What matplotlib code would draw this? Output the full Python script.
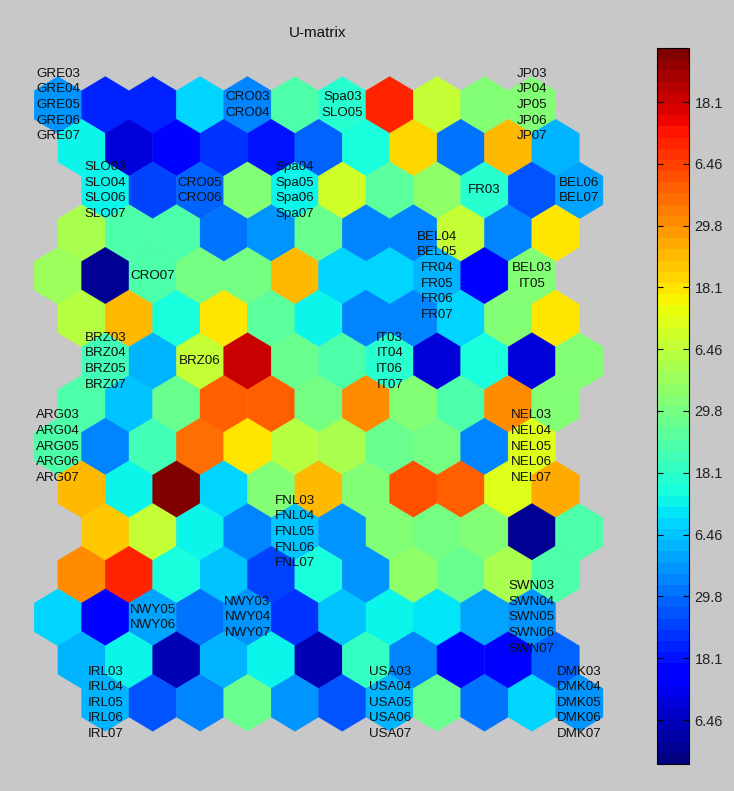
import numpy as np
import matplotlib
matplotlib.use("Agg")
import matplotlib.pyplot as plt
from matplotlib.collections import PolyCollection

plt.rcParams['font.family'] = ['Liberation Sans', 'DejaVu Sans']

# U-matrix values (fraction of the colour range), 15 rows x 11 cols, top row first
umat = np.array([
    [0.27, 0.17, 0.17, 0.33, 0.26, 0.45, 0.40, 0.87, 0.58, 0.50, 0.50],
    [0.36, 0.08, 0.13, 0.18, 0.15, 0.22, 0.38, 0.68, 0.24, 0.71, 0.31],
    [0.37, 0.20, 0.22, 0.50, 0.37, 0.60, 0.46, 0.52, 0.40, 0.21, 0.29],
    [0.55, 0.45, 0.45, 0.24, 0.28, 0.47, 0.25, 0.25, 0.59, 0.26, 0.66],
    [0.54, 0.02, 0.45, 0.49, 0.49, 0.71, 0.33, 0.33, 0.31, 0.12, 0.50],
    [0.57, 0.71, 0.38, 0.66, 0.46, 0.37, 0.25, 0.25, 0.33, 0.51, 0.66],
    [0.43, 0.30, 0.59, 0.93, 0.48, 0.45, 0.40, 0.08, 0.38, 0.08, 0.51],
    [0.45, 0.32, 0.48, 0.80, 0.80, 0.49, 0.75, 0.50, 0.45, 0.76, 0.51],
    [0.45, 0.25, 0.43, 0.79, 0.67, 0.57, 0.56, 0.47, 0.49, 0.25, 0.62],
    [0.71, 0.36, 1.00, 0.33, 0.50, 0.71, 0.50, 0.82, 0.80, 0.62, 0.73],
    [0.70, 0.59, 0.36, 0.26, 0.32, 0.28, 0.50, 0.49, 0.50, 0.02, 0.45],
    [0.75, 0.87, 0.39, 0.32, 0.20, 0.38, 0.28, 0.52, 0.47, 0.56, 0.45],
    [0.33, 0.12, 0.29, 0.24, 0.27, 0.18, 0.32, 0.36, 0.35, 0.29, 0.28],
    [0.31, 0.36, 0.05, 0.31, 0.36, 0.05, 0.42, 0.25, 0.13, 0.13, 0.23],
    [0.31, 0.21, 0.26, 0.47, 0.28, 0.21, 0.31, 0.47, 0.24, 0.33, 0.28],
])

# unit labels: (row, col) -> names
labels = {
    (0, 0): ['GRE03', 'GRE04', 'GRE05', 'GRE06', 'GRE07'],
    (0, 4): ['CRO03', 'CRO04'],
    (0, 6): ['Spa03', 'SLO05'],
    (0, 10): ['JP03', 'JP04', 'JP05', 'JP06', 'JP07'],
    (2, 0): ['SLO03', 'SLO04', 'SLO06', 'SLO07'],
    (2, 2): ['CRO05', 'CRO06'],
    (2, 4): ['Spa04', 'Spa05', 'Spa06', 'Spa07'],
    (2, 8): ['FR03'],
    (2, 10): ['BEL06', 'BEL07'],
    (4, 2): ['CRO07'],
    (4, 8): ['BEL04', 'BEL05', 'FR04', 'FR05', 'FR06', 'FR07'],
    (4, 10): ['BEL03', 'IT05'],
    (6, 0): ['BRZ03', 'BRZ04', 'BRZ05', 'BRZ07'],
    (6, 2): ['BRZ06'],
    (6, 6): ['IT03', 'IT04', 'IT06', 'IT07'],
    (8, 0): ['ARG03', 'ARG04', 'ARG05', 'ARG06', 'ARG07'],
    (8, 10): ['NEL03', 'NEL04', 'NEL05', 'NEL06', 'NEL07'],
    (10, 4): ['FNL03', 'FNL04', 'FNL05', 'FNL06', 'FNL07'],
    (12, 2): ['NWY05', 'NWY06'],
    (12, 4): ['NWY03', 'NWY04', 'NWY07'],
    (12, 10): ['SWN03', 'SWN04', 'SWN05', 'SWN06', 'SWN07'],
    (14, 0): ['IRL03', 'IRL04', 'IRL05', 'IRL06', 'IRL07'],
    (14, 6): ['USA03', 'USA04', 'USA05', 'USA06', 'USA07'],
    (14, 10): ['DMK03', 'DMK04', 'DMK05', 'DMK06', 'DMK07'],
}

cbar_labels = ['6.46', '18.1', '29.8']

bg = '#c8c8c8'
fig = plt.figure(figsize=(7.34, 7.91), dpi=100, facecolor=bg)
W, H = 734, 791

# hexaU lattice: row shifts repeat every 4 rows
shifts = [0, 0.5, 1, 0.5]
hexv = np.array([[0, -2/3], [0.5, -1/3], [0.5, 1/3], [0, 2/3], [-0.5, 1/3], [-0.5, -1/3]])

nrow, ncol = umat.shape
polys, vals = [], []
centers = {}
for r in range(nrow):
    for c in range(ncol):
        x = c + shifts[r % 4]
        centers[(r, c)] = (x, r)
        polys.append(hexv + [x, r])
        vals.append(umat[r, c])

cmap = plt.get_cmap('jet', 64)
ax = fig.add_axes([20/W, 1 - 760/H, 600/W, 700/H])
ax.set_facecolor(bg)
pc = PolyCollection(polys, array=np.array(vals), cmap=cmap, edgecolors='face', linewidths=0.3)
pc.set_clim(0, 1)
ax.add_collection(pc)
ax.set_xlim(-0.80, 11.86)
ax.set_ylim(15.34, -1.054)
ax.axis('off')

for key, names in labels.items():
    x, y = centers[key]
    ax.text(x, y, '\n'.join(names), ha='center', va='center', fontsize=9.6,
            color='#111111', linespacing=1.4)

fig.text(318/W, 1 - 33/H, 'U-matrix', ha='center', va='center', fontsize=11, color='#111111')

# colorbar
cax = fig.add_axes([657/W, 1 - 764/H, 32/W, 716/H])
cb = fig.colorbar(pc, cax=cax)
ticks = np.linspace((764 - 720) / 716, (764 - 102) / 716, 11)
cb.set_ticks(ticks)
cb.set_ticklabels([cbar_labels[i % 3] for i in range(11)])
cax.tick_params(axis='y', direction='in', length=4, width=0.8, left=True, right=True,
                labelsize=10.5, labelcolor='#222222', pad=4)
cb.outline.set_linewidth(0.8)

fig.savefig('out.png', dpi=100, facecolor=bg)
